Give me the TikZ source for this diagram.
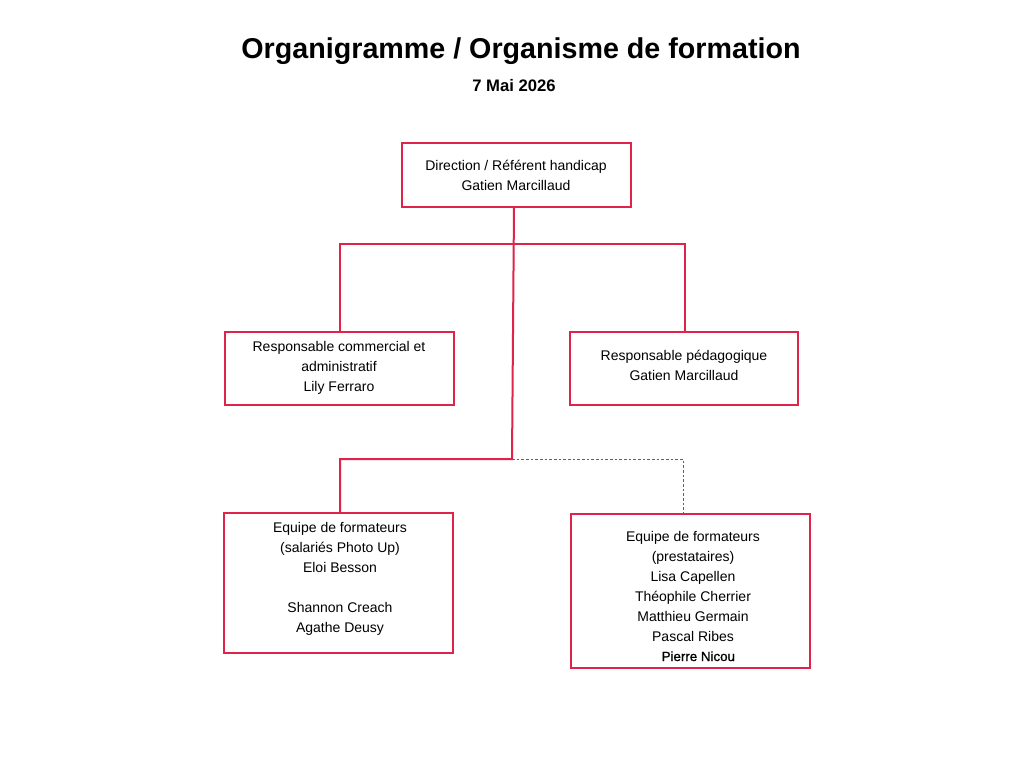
\documentclass[tikz,border=0pt]{standalone}
\usepackage{fontspec}
\setmainfont{Liberation Sans}
\begin{document}
\begin{tikzpicture}[x=0.75pt,y=-0.75pt,
  box/.style={draw=crim,line width=1.5pt},
  lbl/.style={align=center,font=\fontsize{10.5}{15}\selectfont,text=black},
  link/.style={draw=crim,line width=1.5pt},
  dlink/.style={draw=crim,line width=0.75pt,dash pattern=on 2pt off 1.5pt}]
\definecolor{crim}{HTML}{E0234A}
\useasboundingbox[fill=white] (0,0) rectangle (1024,768);
\node[font=\bfseries\fontsize{21.5}{24}\selectfont] (title) at (521,51) {Organigramme / Organisme de formation};
\node[font=\bfseries\fontsize{12.5}{14}\selectfont] (date) at (514,86) {7 Mai 2026};
\draw[box] (402,143) rectangle (631,207);
\node[lbl] (top) at (516,175) {Direction / Référent handicap\\Gatien Marcillaud};
\draw[box] (225,332) rectangle (454,405);
\node[lbl] (ml) at (339,368) {Responsable commercial et\\administratif\\Lily Ferraro};
\draw[box] (570,332) rectangle (798,405);
\node[lbl] (mr) at (684,365) {Responsable pédagogique\\Gatien Marcillaud};
\draw[box] (224,513) rectangle (453,653);
\node[lbl] (bl) at (340,579) {Equipe de formateurs\\(salariés Photo Up)\\Eloi Besson\\[15pt]Shannon Creach\\Agathe Deusy};
\draw[box] (571,514) rectangle (810,668);
\node[lbl] (br) at (693,596) {Equipe de formateurs\\(prestataires)\\Lisa Capellen\\Théophile Cherrier\\Matthieu Germain\\Pascal Ribes\\\hspace*{8pt}{\fontsize{10}{15}\selectfont\addfontfeature{FakeBold=1.2}Pierre Nicou}};
\coordinate (t) at (514,207);
\coordinate (j2) at (512,459);
\draw[link] (t) -- (j2) -- (340,459) -- (340,513);
\draw[link] (340,332) -- (340,244) -- (685,244) -- (685,332);
\draw[dlink] (j2) -- (683,459) -- (683,514);
\end{tikzpicture}
\end{document}
